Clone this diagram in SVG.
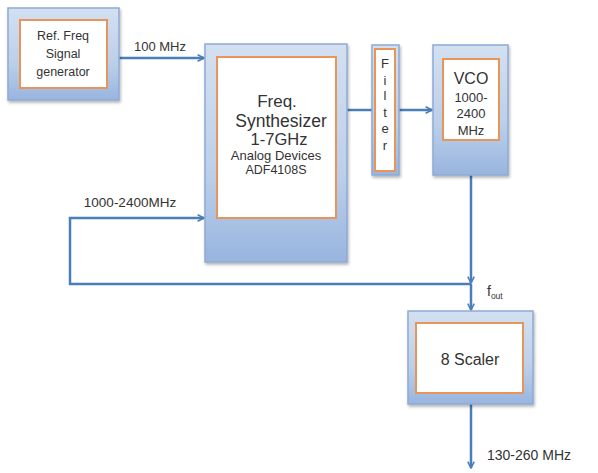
<svg xmlns="http://www.w3.org/2000/svg" width="598" height="473" viewBox="0 0 598 473">
<defs>
<linearGradient id="blueG" x1="0" y1="0" x2="0" y2="1">
<stop offset="0" stop-color="#d3e0f1"/>
<stop offset="0.6" stop-color="#bccfea"/>
<stop offset="1" stop-color="#98b5df"/>
</linearGradient>
<filter id="sh" x="-10%" y="-10%" width="130%" height="130%">
<feGaussianBlur in="SourceAlpha" stdDeviation="1.5"/>
<feOffset dx="1" dy="2"/>
<feComponentTransfer><feFuncA type="linear" slope="0.3"/></feComponentTransfer>
<feMerge><feMergeNode/><feMergeNode in="SourceGraphic"/></feMerge>
</filter>
<marker id="arr" viewBox="0 0 10 10" refX="9" refY="5" markerWidth="8" markerHeight="8" markerUnits="userSpaceOnUse" orient="auto">
<path d="M1,1 L9,5 L1,9" fill="none" stroke="#4a7ebb" stroke-width="2"/>
</marker>
</defs>
<style>
.outer{fill:url(#blueG);stroke:#8eaad4;stroke-width:1.5;filter:url(#sh)}
.inner{fill:#ffffff;stroke:#e8955a;stroke-width:2}
.t{font-family:"Liberation Sans",Arial,sans-serif;fill:#333333;text-anchor:middle}
.c{fill:none;stroke:#4a7ebb;stroke-width:2.5}
</style>
<rect width="598" height="473" fill="#ffffff"/>
<g id="connectors">
<line class="c" x1="119" y1="58" x2="204" y2="58" marker-end="url(#arr)"/>
<line class="c" x1="347" y1="110" x2="372" y2="110"/>
<line class="c" x1="399" y1="110" x2="432" y2="110" marker-end="url(#arr)"/>
<line class="c" x1="471" y1="175" x2="471" y2="283" marker-end="url(#arr)"/>
<line class="c" x1="471" y1="284" x2="471" y2="310" marker-end="url(#arr)"/>
<polyline class="c" points="471,284 70,284 70,218 204,218" marker-end="url(#arr)"/>
<line class="c" x1="471" y1="404" x2="471" y2="468" marker-end="url(#arr)"/>
<text class="t" x="160" y="51" font-size="13">100 MHz</text>
<text class="t" x="130" y="207" font-size="13.5">1000-2400MHz</text>
<text x="487" y="296" font-family="Liberation Sans,Arial,sans-serif" font-size="14" fill="#333333">f<tspan font-size="8.5" dy="3">out</tspan></text>
<text x="487" y="460" font-family="Liberation Sans,Arial,sans-serif" font-size="14" fill="#333333">130-260 MHz</text>
</g>
<g id="ref">
<rect class="outer" x="8" y="8" width="111" height="92"/>
<rect class="inner" x="20" y="20" width="87" height="68"/>
<text class="t" x="63" y="40" font-size="12.5">Ref. Freq</text>
<text class="t" x="63" y="58" font-size="12.5">Signal</text>
<text class="t" x="63" y="76" font-size="12.5">generator</text>
</g>
<g id="synth">
<rect class="outer" x="205" y="44" width="142" height="218"/>
<rect class="inner" x="217" y="57" width="119" height="161"/>
<text class="t" x="277" y="107" font-size="17">Freq.</text>
<text class="t" x="281" y="127" font-size="17.5">Synthesizer</text>
<text class="t" x="279" y="145" font-size="16.5">1-7GHz</text>
<text class="t" x="276" y="160" font-size="13">Analog Devices</text>
<text class="t" x="276" y="174" font-size="12.5">ADF4108S</text>
</g>
<g id="filter">
<rect class="outer" x="372" y="45" width="27" height="130"/>
<rect class="inner" x="375" y="49" width="20" height="122"/>
<text class="t" x="385" y="68" font-size="13">F</text>
<text class="t" x="385" y="85" font-size="13">i</text>
<text class="t" x="385" y="100" font-size="13">l</text>
<text class="t" x="385" y="117" font-size="13">t</text>
<text class="t" x="385" y="133" font-size="13">e</text>
<text class="t" x="385" y="150" font-size="13">r</text>
</g>
<g id="vco">
<rect class="outer" x="433" y="45" width="75" height="130"/>
<rect class="inner" x="443" y="59" width="56" height="81"/>
<text class="t" x="471" y="84" font-size="16">VCO</text>
<text class="t" x="471" y="102" font-size="13">1000-</text>
<text class="t" x="471" y="118" font-size="13">2400</text>
<text class="t" x="471" y="135" font-size="13">MHz</text>
</g>
<g id="scaler">
<rect class="outer" x="408" y="311" width="125" height="93"/>
<rect class="inner" x="416" y="323" width="107" height="70"/>
<text class="t" x="470" y="365" font-size="16">8 Scaler</text>
</g>
</svg>
